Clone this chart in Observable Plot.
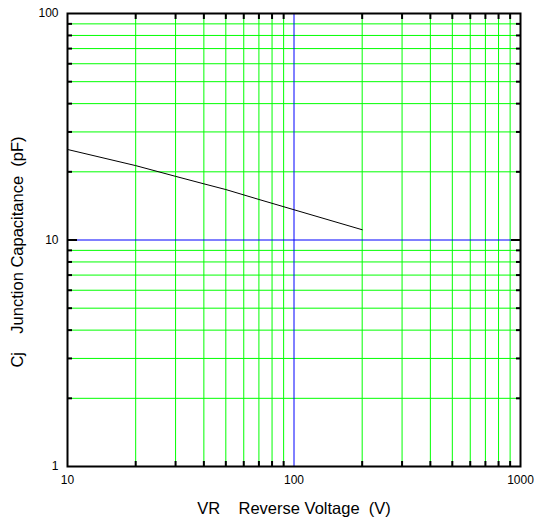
<!DOCTYPE html>
<html>
<head>
<meta charset="utf-8">
<script src="https://cdn.jsdelivr.net/npm/d3@7"></script>
<script src="https://cdn.jsdelivr.net/npm/@observablehq/plot@0.6"></script>
<style>
  body { margin: 0; background: #fff; }
  svg text { white-space: pre; }
</style>
</head>
<body>
<div id="chart"></div>
<script>
// Data
const voltage = [10, 20, 30, 40, 50, 70, 100, 200];
const capacitance = [25.1, 21.3, 19.1, 17.7, 16.7, 15.1, 13.6, 11.1];

// Grid / tick positions
const xMajor = [10, 100, 1000];
const xMinor = [20, 30, 40, 50, 60, 70, 80, 90, 200, 300, 400, 500, 600, 700, 800, 900];
const yMajor = [1, 10, 100];
const yMinor = [2, 3, 4, 5, 6, 7, 8, 9, 20, 30, 40, 50, 60, 70, 80, 90];
const xBlue = [100];
const yBlue = [10];
const xTitle = "VR    Reverse Voltage  (V)";
const yTitle = "Cj    Junction Capacitance  (pF)";

const data = voltage.map((v, i) => ({v, c: capacitance[i]}));

const chart = Plot.plot({
  width: 538,
  height: 521,
  marginLeft: 67,
  marginRight: 18,
  marginTop: 13,
  marginBottom: 55,
  style: {fontFamily: "Liberation Sans, Arial, sans-serif", fontSize: "12px", color: "#000", background: "#fff"},
  x: {type: "log", domain: [10, 1000]},
  y: {type: "log", domain: [1, 100]},
  marks: [
    Plot.ruleX(xMinor, {stroke: "#00ff00", strokeWidth: 1}),
    Plot.ruleY(yMinor, {stroke: "#00ff00", strokeWidth: 1}),
    Plot.ruleX(xBlue, {stroke: "#0000ff", strokeWidth: 1}),
    Plot.ruleY(yBlue, {stroke: "#0000ff", strokeWidth: 1}),
    Plot.line(data, {x: "v", y: "c", stroke: "#000", strokeWidth: 1}),
    // inward minor ticks on all four sides
    Plot.axisX({anchor: "bottom", ticks: xMinor, tickSize: -5, tickFormat: () => "", label: null, strokeWidth: 2}),
    Plot.axisX({anchor: "top", ticks: xMinor, tickSize: -5, tickFormat: () => "", label: null, strokeWidth: 2}),
    Plot.axisY({anchor: "left", ticks: yMinor, tickSize: -5, tickFormat: () => "", label: null, strokeWidth: 2}),
    Plot.axisY({anchor: "right", ticks: yMinor, tickSize: -5, tickFormat: () => "", label: null, strokeWidth: 2}),
    Plot.axisY({anchor: "left", ticks: [10], tickSize: -10, tickFormat: () => "", label: null, strokeWidth: 2}),
    Plot.axisY({anchor: "right", ticks: [10], tickSize: -10, tickFormat: () => "", label: null, strokeWidth: 2}),
    // tick labels
    Plot.axisX({anchor: "bottom", ticks: xMajor, tickSize: 0, tickPadding: 9, tickFormat: d => String(d), label: null, fontSize: 12}),
    Plot.axisY({anchor: "left", ticks: yMajor, tickSize: 0, tickPadding: 9, tickFormat: d => String(d), label: null, fontSize: 12}),
    // axis titles
    Plot.text([xTitle], {text: d => d, frameAnchor: "bottom", dy: 47, fontSize: 16.5, fill: "#000"}),
    Plot.text([yTitle], {text: d => d, frameAnchor: "left", textAnchor: "middle", rotate: -90, dx: -50, dy: 12, fontSize: 16.5, fill: "#000"}),
    Plot.frame({stroke: "#000", strokeWidth: 2})
  ]
});
document.getElementById("chart").appendChild(chart);
</script>
</body>
</html>
